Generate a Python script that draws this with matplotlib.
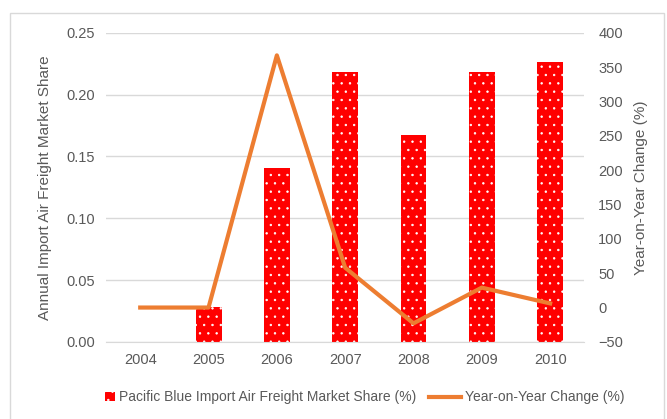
import matplotlib.pyplot as plt
from matplotlib.patches import Rectangle
from matplotlib.legend_handler import HandlerPatch

plt.rcParams['font.family'] = ['Liberation Sans', 'DejaVu Sans']
plt.rcParams['hatch.linewidth'] = 0.5

years = ['2004', '2005', '2006', '2007', '2008', '2009', '2010']
share = [0.0, 0.028, 0.141, 0.218, 0.1675, 0.218, 0.226]
yoy = [0, 0, 367, 58, -23, 29, 6]

gray = '#595959'
grid = '#d9d9d9'


def small_square(legend, orig_handle, xdescent, ydescent, width, height, fontsize):
    s = height * 1.0
    return Rectangle((width - s, (height - s) / 2), s, s)


fig = plt.figure(figsize=(6.67, 4.19), dpi=100)
fig.patches.append(Rectangle((0.015, -0.05), 0.98, 1.02, transform=fig.transFigure,
                             fill=False, edgecolor=grid, linewidth=1))
ax = fig.add_axes([0.159, 0.184, 0.717, 0.738])
x = range(len(years))
ax.bar(x, share, width=0.38, color='#ff0000', edgecolor='white', linewidth=0,
       hatch='..', label='Pacific Blue Import Air Freight Market Share (%)', zorder=2)
ax.set_ylim(0, 0.25)
ax.set_yticks([0, 0.05, 0.10, 0.15, 0.20, 0.25])
ax.set_yticklabels(['0.00', '0.05', '0.10', '0.15', '0.20', '0.25'])
ax.set_xlim(-0.5, 6.5)
ax.set_xticks(list(x))
ax.set_xticklabels(years)
ax.grid(axis='y', color=grid, linewidth=1, zorder=0)
ax.set_axisbelow(True)
for s in ['top', 'right', 'left']:
    ax.spines[s].set_visible(False)
ax.spines['bottom'].set_color(grid)
ax.tick_params(length=0, colors=gray, labelsize=10.5, pad=8)
ax.set_ylabel('Annual Import Air Freight Market Share', color=gray, fontsize=11, labelpad=10)

ax2 = ax.twinx()
ax2.plot(x, yoy, color='#ed7d31', linewidth=3, label='Year-on-Year Change (%)', zorder=3)
ax2.set_ylim(-50, 400)
ax2.set_yticks(range(-50, 401, 50))
for s in ax2.spines.values():
    s.set_visible(False)
ax2.tick_params(length=0, colors=gray, labelsize=10.5, pad=10)
ax2.set_ylabel('Year-on-Year Change (%)', color=gray, fontsize=11, labelpad=8)

h1, l1 = ax.get_legend_handles_labels()
h2, l2 = ax2.get_legend_handles_labels()
bar_handle = Rectangle((0, 0), 1, 1, facecolor='#ff0000', edgecolor='white',
                       linewidth=0, hatch='..')
fig.legend([bar_handle] + h2, l1 + l2, loc='lower center', bbox_to_anchor=(0.53, 0.005),
           ncol=2, frameon=False, fontsize=10, labelcolor=gray, handlelength=2.3,
           handletextpad=0.3, columnspacing=0.9,
           handler_map={Rectangle: HandlerPatch(patch_func=small_square)})

fig.savefig('out.png', dpi=100)
